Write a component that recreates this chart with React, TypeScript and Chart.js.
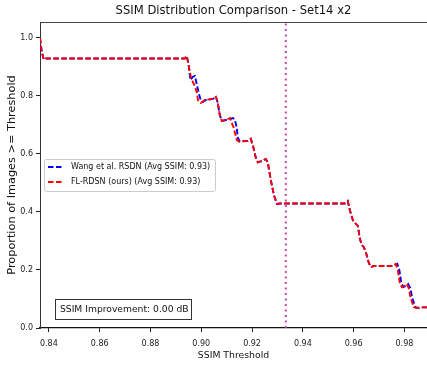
import { useEffect, useRef } from "react";
import { Chart, registerables } from "chart.js";

Chart.register(...registerables);

const chartTitle = "SSIM Distribution Comparison - Set14 x2";
const xAxisLabel = "SSIM Threshold";
const yAxisLabel = "Proportion of Images >= Threshold";
const seriesNames = ["Wang et al. RSDN (Avg SSIM: 0.93)", "FL-RDSN (ours) (Avg SSIM: 0.93)"];
const improvementText = "SSIM Improvement: 0.00 dB";

const xTicks = [0.84, 0.86, 0.88, 0.9, 0.92, 0.94, 0.96, 0.98];
const yTicks = [0, 0.2, 0.4, 0.6, 0.8, 1.0];
const xRange = [0.8365, 0.9889];
const yRange = [0, 1.055];

// mean SSIM marker
const avgSsim = 0.9333;

// smoothed survival curves: [threshold, proportion]
const rsdnCurve: [number, number][] = [
  [0.8365, 1.0], [0.8372, 0.952], [0.838, 0.925], [0.8388, 0.929], [0.8935, 0.929],
  [0.8943, 0.938], [0.8951, 0.903], [0.8957, 0.855], [0.8967, 0.866], [0.8975, 0.869],
  [0.8983, 0.838], [0.8991, 0.807], [0.8998, 0.786], [0.9006, 0.779], [0.9018, 0.786],
  [0.9046, 0.79], [0.9058, 0.797], [0.9065, 0.776], [0.9073, 0.734], [0.9081, 0.714],
  [0.9097, 0.717], [0.9113, 0.72], [0.9124, 0.724], [0.9132, 0.72], [0.914, 0.69],
  [0.9144, 0.655], [0.9152, 0.643], [0.9184, 0.645], [0.9195, 0.652], [0.9203, 0.631],
  [0.9215, 0.586], [0.9223, 0.571], [0.9239, 0.576], [0.9254, 0.583], [0.9262, 0.571],
  [0.9274, 0.51], [0.9286, 0.459], [0.9298, 0.428], [0.9309, 0.429], [0.9565, 0.429],
  [0.9577, 0.438], [0.9585, 0.407], [0.9597, 0.372], [0.9609, 0.359], [0.9617, 0.352],
  [0.9624, 0.31], [0.9632, 0.286], [0.964, 0.279], [0.9648, 0.262], [0.966, 0.224],
  [0.9668, 0.21], [0.968, 0.214], [0.9754, 0.214], [0.9772, 0.221], [0.978, 0.2],
  [0.9788, 0.155], [0.9796, 0.141], [0.9804, 0.145], [0.9815, 0.152], [0.9823, 0.138],
  [0.9831, 0.103], [0.9843, 0.072], [0.9855, 0.069], [0.9867, 0.071], [0.99, 0.071],
];

const flRdsnCurve: [number, number][] = [
  [0.8365, 1.0], [0.8372, 0.952], [0.838, 0.925], [0.8388, 0.929], [0.8935, 0.929],
  [0.8943, 0.938], [0.8951, 0.903], [0.8959, 0.866], [0.8967, 0.848], [0.8975, 0.834],
  [0.8983, 0.81], [0.8987, 0.786], [0.8998, 0.776], [0.9014, 0.786], [0.9046, 0.79],
  [0.9058, 0.797], [0.9065, 0.776], [0.9073, 0.734], [0.9081, 0.714], [0.9097, 0.717],
  [0.9113, 0.724], [0.9128, 0.69], [0.914, 0.648], [0.9148, 0.643], [0.9184, 0.645],
  [0.9195, 0.652], [0.9203, 0.631], [0.9215, 0.586], [0.9223, 0.571], [0.9239, 0.576],
  [0.9254, 0.583], [0.9262, 0.571], [0.9274, 0.51], [0.9286, 0.459], [0.9298, 0.428],
  [0.9309, 0.429], [0.9565, 0.429], [0.9577, 0.438], [0.9585, 0.407], [0.9597, 0.372],
  [0.9609, 0.359], [0.9617, 0.352], [0.9624, 0.31], [0.9632, 0.286], [0.964, 0.279],
  [0.9648, 0.262], [0.966, 0.224], [0.9668, 0.21], [0.968, 0.214], [0.9754, 0.214],
  [0.9766, 0.221], [0.9774, 0.2], [0.9782, 0.155], [0.979, 0.141], [0.9798, 0.145],
  [0.9809, 0.152], [0.9817, 0.138], [0.9825, 0.103], [0.9837, 0.072], [0.9849, 0.069],
  [0.9861, 0.071], [0.99, 0.071],
];

const FONT = '"DejaVu Sans", sans-serif';

const decorations = {
  id: "decorations",
  afterDraw(chart: any) {
    const { ctx, chartArea } = chart;
    const { left, right, top, bottom } = chartArea;
    ctx.save();

    // top spine
    ctx.strokeStyle = "#444";
    ctx.lineWidth = 1;
    ctx.beginPath();
    ctx.moveTo(left, top + 0.5);
    ctx.lineTo(right, top + 0.5);
    ctx.stroke();

    ctx.fillStyle = "#111";
    ctx.textBaseline = "middle";
    ctx.textAlign = "center";
    const cx = (left + right) / 2;

    ctx.font = `11.6px ${FONT}`;
    ctx.fillText(chartTitle, cx, 10.5);

    ctx.font = `9.3px ${FONT}`;
    ctx.fillText(xAxisLabel, cx, 356);

    ctx.save();
    ctx.translate(12, (top + bottom) / 2);
    ctx.rotate(-Math.PI / 2);
    ctx.font = `11.3px ${FONT}`;
    ctx.fillText(yAxisLabel, 0, 0);
    ctx.restore();

    // legend
    const lx = 44.5, ly = 159.5, lw = 171, lh = 32;
    ctx.beginPath();
    ctx.roundRect(lx, ly, lw, lh, 2);
    ctx.fillStyle = "rgba(255,255,255,0.85)";
    ctx.fill();
    ctx.strokeStyle = "#cccccc";
    ctx.stroke();

    const ds = chart.data.datasets;
    const entries = [ds[2], ds[1]];
    entries.forEach((d: any, i: number) => {
      const y = 167 + i * 15;
      ctx.strokeStyle = d.borderColor;
      ctx.lineWidth = 1.8;
      ctx.setLineDash([5.5, 2.5]);
      ctx.beginPath();
      ctx.moveTo(48, y);
      ctx.lineTo(64, y);
      ctx.stroke();
      ctx.setLineDash([]);
      ctx.fillStyle = "#111";
      ctx.textAlign = "left";
      ctx.font = `8px ${FONT}`;
      ctx.fillText(d.label, 71, y);
    });

    // improvement box
    ctx.fillStyle = "#fff";
    ctx.fillRect(55.5, 299.5, 136, 20);
    ctx.strokeStyle = "#333";
    ctx.lineWidth = 1;
    ctx.strokeRect(55.5, 299.5, 136, 20);
    ctx.fillStyle = "#111";
    ctx.textAlign = "left";
    ctx.font = `9.2px ${FONT}`;
    ctx.fillText(improvementText, 60, 309.8);

    ctx.restore();
  },
};

export default function App() {
  const canvasRef = useRef<HTMLCanvasElement | null>(null);

  useEffect(() => {
    if (!canvasRef.current) return;
    const toXY = (pts: [number, number][]) => pts.map(([x, y]) => ({ x, y }));
    const chart = new Chart(canvasRef.current, {
      type: "line",
      data: {
        datasets: [
          {
            label: "mean",
            data: [
              { x: avgSsim, y: yRange[0] },
              { x: avgSsim, y: yRange[1] },
            ],
            borderColor: "rgba(196,62,160,0.95)",
            borderWidth: 2,
            borderDash: [2, 3.5],
            pointRadius: 0,
            order: 0,
          },
          {
            label: seriesNames[1],
            data: toXY(flRdsnCurve),
            borderColor: "#ff0000",
            borderWidth: 1.9,
            borderDash: [5.5, 2.5],
            pointRadius: 0,
            tension: 0,
            order: 1,
          },
          {
            label: seriesNames[0],
            data: toXY(rsdnCurve),
            borderColor: "#0000ff",
            borderWidth: 1.9,
            borderDash: [5.5, 2.5],
            pointRadius: 0,
            tension: 0,
            order: 2,
          },
        ],
      },
      options: {
        animation: false,
        responsive: false,
        devicePixelRatio: 1,
        layout: { padding: { top: 22, left: 0, right: 0, bottom: 0 } },
        plugins: {
          legend: { display: false },
          title: { display: false },
          tooltip: { enabled: false },
        },
        scales: {
          x: {
            type: "linear",
            min: xRange[0],
            max: xRange[1],
            afterBuildTicks: (s: any) => {
              s.ticks = xTicks.map((v) => ({ value: v }));
            },
            afterFit: (s: any) => {
              s.height = 43;
            },
            ticks: {
              autoSkip: false,
              maxRotation: 0,
              padding: 7,
              color: "#222",
              font: { family: FONT, size: 8 },
              callback: (v: any) => Number(v).toFixed(2),
            },
            grid: {
              drawOnChartArea: false,
              drawTicks: true,
              tickLength: 4,
              color: "#222",
            },
            border: { display: true, color: "#111", width: 1.2 },
          },
          y: {
            type: "linear",
            min: yRange[0],
            max: yRange[1],
            afterBuildTicks: (s: any) => {
              s.ticks = yTicks.map((v) => ({ value: v }));
            },
            afterFit: (s: any) => {
              s.width = 40;
            },
            ticks: {
              autoSkip: false,
              padding: 3,
              color: "#222",
              font: { family: FONT, size: 8 },
              callback: (v: any) => Number(v).toFixed(1),
            },
            grid: {
              drawOnChartArea: false,
              drawTicks: true,
              tickLength: 4,
              color: "#222",
            },
            border: { display: true, color: "#333", width: 1 },
          },
        },
      },
      plugins: [decorations],
    });
    return () => chart.destroy();
  }, []);

  return (
    <div style={{ position: "fixed", left: 0, top: 0, width: 427, height: 371, background: "#fff", overflow: "hidden" }}>
      <canvas ref={canvasRef} width={427} height={371} style={{ width: 427, height: 371, display: "block" }} />
    </div>
  );
}
